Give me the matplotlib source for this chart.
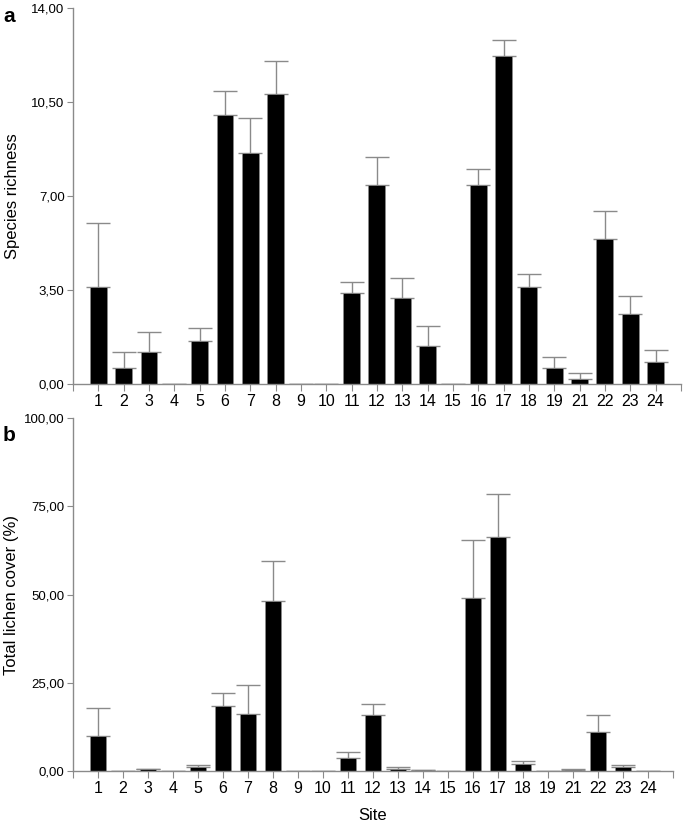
"""Species richness and total lichen cover per site, two stacked bar panels."""

import numpy as np
from matplotlib import pyplot as plt
from matplotlib.ticker import FuncFormatter

plt.rcParams["font.family"] = ["Liberation Sans", "DejaVu Sans"]

GREY = "#8a8a8a"

sites = ["1", "2", "3", "4", "5", "6", "7", "8", "9", "10", "11", "12",
         "13", "14", "15", "16", "17", "18", "19", "21", "22", "23", "24"]

richness = [3.60, 0.61, 1.20, 0.0, 1.60, 10.00, 8.59, 10.80, 0.0, 0.0, 3.40, 7.41,
            3.21, 1.40, 0.0, 7.41, 12.20, 3.61, 0.61, 0.20, 5.41, 2.61, 0.81]
richness_err = [2.38, 0.59, 0.74, 0.0, 0.50, 0.91, 1.31, 1.24, 0.0, 0.0, 0.40, 1.03,
                0.72, 0.75, 0.0, 0.58, 0.60, 0.50, 0.40, 0.20, 1.02, 0.67, 0.47]

cover = [9.9, 0.1, 0.45, 0.0, 1.1, 18.5, 16.2, 48.2, 0.0, 0.0, 3.8, 16.0,
         0.7, 0.3, 0.0, 49.1, 66.3, 2.0, 0.0, 0.3, 11.2, 1.0, 0.1]
cover_err = [8.1, 0.0, 0.1, 0.0, 0.5, 3.7, 8.1, 11.4, 0.0, 0.0, 1.7, 3.1,
             0.35, 0.1, 0.0, 16.3, 12.2, 0.9, 0.0, 0.3, 4.7, 0.6, 0.0]

comma = FuncFormatter(lambda v, pos: f"{v:.2f}".replace(".", ","))


def panel(ax, values, errors, ymax, step, ylabel, label_x):
    pos = np.arange(1, len(sites) + 1)
    ax.bar(pos, values, width=0.67, color="black", edgecolor=GREY, linewidth=0.6,
           zorder=2)
    ax.errorbar(pos, values, yerr=[np.zeros(len(errors)), errors], fmt="none",
                ecolor=GREY, elinewidth=1, capsize=8.5, capthick=1, zorder=1)
    ax.set_xlim(0, len(sites) + 1)
    ax.set_ylim(0, ymax)
    ax.set_yticks(np.arange(0, ymax + step / 2, step))
    ax.yaxis.set_major_formatter(comma)
    ax.set_xticks(np.arange(0, len(sites) + 2))
    ax.set_xticklabels([""] + sites + [""])
    for side in ("top", "right"):
        ax.spines[side].set_visible(False)
    for side in ("left", "bottom"):
        ax.spines[side].set_color(GREY)
        ax.spines[side].set_linewidth(1)
    ax.tick_params(axis="y", colors=GREY, labelcolor="black", labelsize=9.5,
                   length=4, pad=2)
    ax.tick_params(axis="x", colors=GREY, labelcolor="black", labelsize=11.5,
                   length=5, pad=2)
    ax.set_ylabel(ylabel, fontsize=12)
    ax.yaxis.set_label_coords(label_x, 0.5)


fig = plt.figure(figsize=(6.85, 8.27), dpi=100)
ax_a = fig.add_axes([0.1066, 0.5357, 0.8874, 0.4546])
ax_b = fig.add_axes([0.1066, 0.0677, 0.8759, 0.4265])

panel(ax_a, richness, richness_err, 14, 3.5, "Species richness", -0.088)
panel(ax_b, cover, cover_err, 100, 25, "Total lichen cover (%)", -0.090)

ax_b.set_xlabel("Site", fontsize=12)
ax_b.xaxis.set_label_coords(0.5, -0.105)

fig.text(0.005, 0.992, "a", fontsize=15, fontweight="bold", va="top")
fig.text(0.004, 0.485, "b", fontsize=15, fontweight="bold", va="top")

fig.savefig("out.png", dpi=100)
